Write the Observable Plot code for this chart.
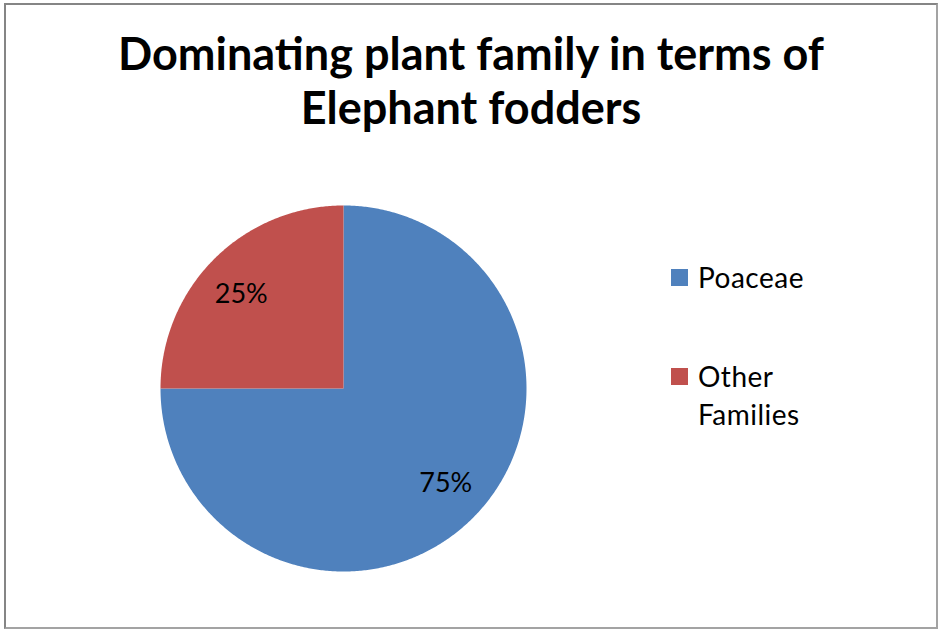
<!DOCTYPE html>
<html><head><meta charset="utf-8">
<script src="https://cdn.jsdelivr.net/npm/d3@7"></script>
<script src="https://cdn.jsdelivr.net/npm/@observablehq/plot@0.6"></script>
<style>
html,body{margin:0;padding:0;background:#fff;}
#chart{position:relative;width:938px;height:629px;overflow:hidden;font-family:Lato,"Open Sans",sans-serif;color:#000;}
#frame{position:absolute;left:4px;top:3px;width:934px;height:626px;box-sizing:border-box;border-left:2px solid #858585;border-top:2px solid #858585;border-right:2px solid #a3a3a3;border-bottom:2px solid #a3a3a3;pointer-events:none;}
#plot{position:absolute;left:0;top:0;}
.tline{position:absolute;left:0;width:942px;text-align:center;font-weight:bold;font-size:45px;line-height:48px;white-space:nowrap;}
.leg{position:absolute;font-size:28px;line-height:38px;letter-spacing:0.5px;}
.sw{position:absolute;width:17px;height:17px;}
</style></head>
<body>
<div id="chart">
  <div id="plot"></div>
  <div id="title"></div>
  <div id="legend"></div>
  <div id="frame"></div>
</div>
<script>
const titleLines = ["Dominating plant family in terms of", "Elephant fodders"];
const categories = ["Poaceae", "Other Families"];
const shares = [75, 25];
const pctLabels = ["75%", "25%"];
const colors = ["#4F81BD", "#C0504D"];
const legendLines = [["Poaceae"], ["Other", "Families"]];

const W = 938, H = 629, cx = 343, cy = 388, R = 183;

const arcs = d3.pie().sort(null).value(d => d)(shares).map((a, i) => ({...a, cat: categories[i], label: pctLabels[i]}));
const pts = [];
for (const a of arcs) {
  pts.push({cat: a.cat, x: 0, y: 0});
  const n = Math.max(2, Math.ceil((a.endAngle - a.startAngle) / (Math.PI / 360)));
  for (let k = 0; k <= n; k++) {
    const t = a.startAngle + (a.endAngle - a.startAngle) * k / n;
    pts.push({cat: a.cat, x: Math.sin(t), y: Math.cos(t)});
  }
  pts.push({cat: a.cat, x: 0, y: 0});
}

const chart = Plot.plot({
  width: W, height: H,
  margin: 0,
  style: {fontFamily: "Lato, 'Open Sans', sans-serif", background: "transparent"},
  x: {domain: [-cx / R, (W - cx) / R], axis: null},
  y: {domain: [-(H - cy) / R, cy / R], axis: null},
  color: {domain: categories, range: colors},
  marks: [
    Plot.line(pts, {x: "x", y: "y", z: "cat", fill: "cat", stroke: "none", curve: "linear"}),
    Plot.text(arcs, {
      x: d => 0.79 * Math.sin((d.startAngle + d.endAngle) / 2),
      y: d => 0.73 * Math.cos((d.startAngle + d.endAngle) / 2),
      text: "label", fontSize: 27, fill: "#000"
    })
  ]
});
document.getElementById("plot").appendChild(chart);

const title = document.getElementById("title");
titleLines.forEach((t, i) => {
  const d = document.createElement("div");
  d.className = "tline";
  d.style.top = (29 + i * 54) + "px";
  d.textContent = t;
  title.appendChild(d);
});

const legend = document.getElementById("legend");
const legTops = [258, 357];
legendLines.forEach((lines, i) => {
  const sw = document.createElement("div");
  sw.className = "sw";
  sw.style.left = "671px";
  sw.style.top = (legTops[i] + 11) + "px";
  sw.style.background = colors[i];
  legend.appendChild(sw);
  const t = document.createElement("div");
  t.className = "leg";
  t.style.left = "698px";
  t.style.top = legTops[i] + "px";
  t.innerHTML = lines.join("<br>");
  legend.appendChild(t);
});
</script>
</body></html>
